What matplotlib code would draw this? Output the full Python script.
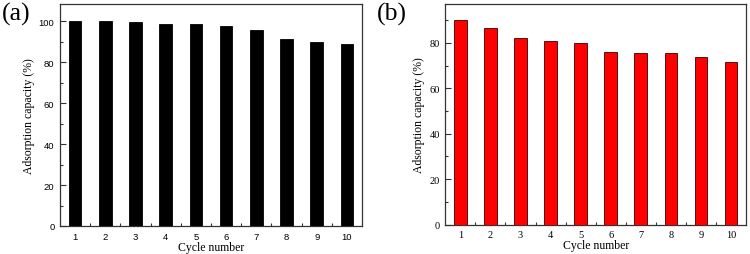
import matplotlib
matplotlib.use("Agg")
import matplotlib.pyplot as plt
from matplotlib.ticker import MultipleLocator

cycles = [1, 2, 3, 4, 5, 6, 7, 8, 9, 10]
capacity_a = [100.0, 100.0, 99.7, 98.9, 98.9, 97.7, 95.9, 91.5, 90.0, 89.1]
capacity_b = [90.0, 86.3, 82.1, 80.9, 79.7, 76.0, 75.7, 75.6, 73.7, 71.6]
xlabel = "Cycle number"
ylabel = "Adsorption capacity (%)"

fig = plt.figure(figsize=(7.5, 2.55), dpi=100)
ax_a = fig.add_axes([0.08, 0.110, 0.4027, 0.870])
ax_b = fig.add_axes([0.5937, 0.115, 0.401, 0.8666])

serif = "Liberation Serif"
sans = "Liberation Sans"
axcol = "#333333"

def style(ax, ylim, ymaj, tickfont, tsize):
    ax.set_xlim(0.5, 10.5)
    ax.set_ylim(*ylim)
    ax.set_xticks(cycles)
    ax.set_xticks([c + 0.5 for c in cycles[:-1]], minor=True)
    ax.yaxis.set_major_locator(MultipleLocator(ymaj))
    ax.yaxis.set_minor_locator(MultipleLocator(ymaj / 2))
    ax.tick_params(which="both", direction="in", top=False, right=False, color=axcol, width=0.8)
    ax.tick_params(which="major", length=4, pad=4, labelsize=tsize)
    ax.tick_params(which="minor", length=2.5)
    for lab in ax.get_xticklabels() + ax.get_yticklabels():
        lab.set_fontfamily(tickfont)
    for s in ax.spines.values():
        s.set_color(axcol)
        s.set_linewidth(0.9)
    ax.set_xlabel(xlabel, fontfamily=serif, fontsize=8.5, labelpad=0)
    ax.set_ylabel(ylabel, fontfamily=serif, fontsize=8.5, labelpad=3)

ax_a.bar(cycles, capacity_a, width=0.42, color="black", edgecolor="black", linewidth=0.6, zorder=3)
style(ax_a, (0, 108.5), 20, sans, 6.8)

ax_b.bar(cycles, capacity_b, width=0.42, color="#ff0000", edgecolor="#3a0000", linewidth=0.6, zorder=3)
style(ax_b, (0, 97.2), 20, serif, 7.5)

fig.text(0.002, 0.99, "(a)", fontfamily=serif, fontsize=18.5, va="top", ha="left")
fig.text(0.5025, 0.99, "(b)", fontfamily=serif, fontsize=18.5, va="top", ha="left")

fig.savefig("out.png", dpi=100)
